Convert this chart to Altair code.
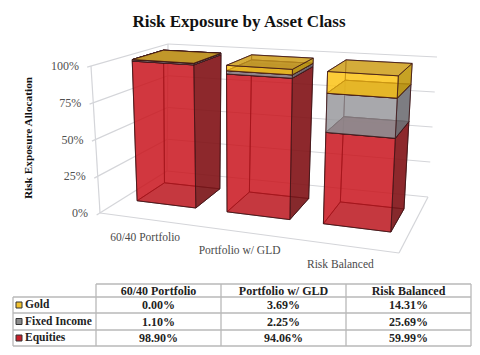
import altair as alt
import pandas as pd

# ---- data ----
categories = ["60/40 Portfolio", "Portfolio w/ GLD", "Risk Balanced"]
equities = [98.90, 94.06, 59.99]
fixed_income = [1.10, 2.25, 25.69]
gold = [0.00, 3.69, 14.31]
series_names = ["Equities", "Fixed Income", "Gold"]
ticks = [0, 25, 50, 75, 100]
title_text = "Risk Exposure by Asset Class"
axis_title = "Risk Exposure Allocation"

# ---- layout: 3-D frame corners on the page, (across, depth, height) ----
FRAME = {
    (0, 0, 0): (100, 213), (1, 0, 0): (399, 253), (0, 1, 0): (167, 171), (1, 1, 0): (428, 197),
    (0, 0, 1): (91, 66), (1, 0, 1): (407, 87), (0, 1, 1): (168, 44), (1, 1, 1): (437, 57),
}
WARP = 1.11
BAR_W = 0.22
D0, D1 = 0.335, 0.755
PAL = {
    "Equities": dict(front="#c9141c", side="#7d1519", top="#6a1a1e", back="#c9141c"),
    "Fixed Income": dict(front="#98989d", side="#6e6e73", top="#7c7c81", back="#98989d"),
    "Gold": dict(front="#fcc414", side="#bd960f", top="#cb9c20", back="#f4bc18"),
}
OP = dict(back=.45, left=.45, bottom=.45, right=.85, front=.72, top=.78)


def warp(t):
    return t / (t + WARP * (1 - t))


def project(u, d, v):
    out = []
    for k in (0, 1):
        s = 0.0
        for (a, b, c), p in FRAME.items():
            s += p[k] * (u if a else 1 - u) * (d if b else 1 - d) * (v if c else 1 - v)
        out.append(s)
    return out


polys, gid = [], 0


def add_face(corners, fill, op):
    global gid
    for n, (u, d, v) in enumerate(corners):
        x, y = project(u, d, v)
        polys.append(dict(id=gid, n=n, x=x, y=y, fill=fill, op=op))
    gid += 1


stacks = [equities, fixed_income, gold]
for i in range(len(categories)):
    c = (i + .5) / len(categories)
    u0, u1 = warp(c - BAR_W / 2), warp(c + BAR_W / 2)
    base = 0.0
    for name, s in zip(series_names, stacks):
        v0, v1 = base / 100, (base + s[i]) / 100
        base += s[i]
        p = PAL[name]
        add_face([(u0, D1, v0), (u1, D1, v0), (u1, D1, v1), (u0, D1, v1)], p["back"], OP["back"])
        add_face([(u0, D0, v0), (u0, D1, v0), (u0, D1, v1), (u0, D0, v1)], p["back"], OP["left"])
        add_face([(u0, D0, v0), (u1, D0, v0), (u1, D1, v0), (u0, D1, v0)], p["top"], OP["bottom"])
        add_face([(u1, D0, v0), (u1, D1, v0), (u1, D1, v1), (u1, D0, v1)], p["side"], OP["right"])
        add_face([(u0, D0, v0), (u1, D0, v0), (u1, D0, v1), (u0, D0, v1)], p["front"], OP["front"])
        add_face([(u0, D0, v1), (u1, D0, v1), (u1, D1, v1), (u0, D1, v1)], p["top"], OP["top"])

# frame lines
lines, lid = [], 0


def add_line(a, b):
    global lid
    for n, q in enumerate((a, b)):
        x, y = project(*q)
        lines.append(dict(id=lid, n=n, x=x, y=y))
    lid += 1


for t in ticks:
    v = t / 100
    add_line((0, -.05, v), (0, 1, v))
    add_line((0, 1, v), (1, 1, v))
add_line((0, 0, 0), (1, 0, 0))
add_line((1, 0, 0), (1, 1, 0))
add_line((0, 0, 0), (0, 0, 1))
add_line((0, 1, 0), (0, 1, 1))

X = alt.X("x:Q", scale=alt.Scale(domain=[8, 472], nice=False, zero=False), axis=None)
Y = alt.Y("y:Q", scale=alt.Scale(domain=[347, 8], nice=False, zero=False), axis=None)
SERIF = "Liberation Serif"

frame_layer = alt.Chart(pd.DataFrame(lines)).mark_line(color="#d4d5d9", strokeWidth=1.2).encode(
    x=X, y=Y, detail="id:O", order="n:Q")

bars_layer = alt.Chart(pd.DataFrame(polys)).mark_line(
    interpolate="linear-closed", stroke="#3d1416", strokeWidth=0.9, strokeOpacity=0.85
).encode(
    x=X, y=Y, detail="id:O", order="n:Q",
    fill=alt.Fill("fill:N", scale=None),
    fillOpacity=alt.FillOpacity("op:Q", scale=None),
)

tick_rows = []
for t in ticks:
    x, y = project(0, 0, t / 100)
    tick_rows.append(dict(x=x, y=y, label=f"{t}%"))
tick_layer = alt.Chart(pd.DataFrame(tick_rows)).mark_text(
    align="right", baseline="middle", font=SERIF, fontSize=12, fill="#505050", dx=-12
).encode(x=X, y=Y, text="label:N")

cat_rows = []
for i, cat in enumerate(categories):
    x, y = project(warp(.238 + .31 * i), -.35, 0)
    cat_rows.append(dict(x=x, y=y - (i == 2), label=cat))
cat_layer = alt.Chart(pd.DataFrame(cat_rows)).mark_text(
    align="center", baseline="middle", font=SERIF, fontSize=11.5, fill="#4a4a4a"
).encode(x=X, y=Y, text="label:N")

title_layer = alt.Chart(pd.DataFrame([dict(x=239, y=22, label=title_text)])).mark_text(
    align="center", baseline="middle", font=SERIF, fontSize=17, fontWeight="bold", fill="#111111"
).encode(x=X, y=Y, text="label:N")

axis_layer = alt.Chart(pd.DataFrame([dict(x=29, y=138, label=axis_title)])).mark_text(
    align="center", baseline="middle", angle=270, font=SERIF, fontSize=11.3, fontWeight="bold", fill="#111111"
).encode(x=X, y=Y, text="label:N")

# ---- table ----
COLS = [13, 96, 221, 346, 471]
ROWS = [284, 297, 313, 330, 346]
rules = []
k = 0
for j, yy in enumerate(ROWS):
    rules.append(dict(id=k, x=COLS[0] if j else COLS[1], y=yy, x2=COLS[-1], y2=yy))
    k += 1
for j, xx in enumerate(COLS):
    rules.append(dict(id=k, x=xx, y=ROWS[1] if j == 0 else ROWS[0], x2=xx, y2=ROWS[-1]))
    k += 1
rule_layer = alt.Chart(pd.DataFrame(rules)).mark_rule(color="#b9b9b9", strokeWidth=1.3).encode(
    x=X, y=Y, x2="x2:Q", y2="y2:Q")

row_names = ["Gold", "Fixed Income", "Equities"]
row_values = [gold, fixed_income, equities]
swatch_fill = ["#f2c230", "#8c8c8c", "#c8202a"]
cell_rows, name_rows, swatch_rows = [], [], []
for c, cat in enumerate(categories):
    cell_rows.append(dict(x=(COLS[c + 1] + COLS[c + 2]) / 2, y=(ROWS[0] + ROWS[1]) / 2, label=cat))
for r, (nm, vals) in enumerate(zip(row_names, row_values)):
    yc = (ROWS[r + 1] + ROWS[r + 2]) / 2
    name_rows.append(dict(x=25, y=yc, label=nm))
    swatch_rows.append(dict(x=19, y=yc, fill=swatch_fill[r]))
    for c, val in enumerate(vals):
        cell_rows.append(dict(x=(COLS[c + 1] + COLS[c + 2]) / 2, y=yc, label=f"{val:.2f}%"))

cells_layer = alt.Chart(pd.DataFrame(cell_rows)).mark_text(
    align="center", baseline="middle", font=SERIF, fontSize=12, fontWeight="bold", fill="#222222"
).encode(x=X, y=Y, text="label:N")
names_layer = alt.Chart(pd.DataFrame(name_rows)).mark_text(
    align="left", baseline="middle", font=SERIF, fontSize=11.5, fontWeight="bold", fill="#222222"
).encode(x=X, y=Y, text="label:N")
swatch_layer = alt.Chart(pd.DataFrame(swatch_rows)).mark_point(
    shape="square", size=36, filled=True, stroke="#333333", strokeWidth=1, opacity=1
).encode(x=X, y=Y, fill=alt.Fill("fill:N", scale=None))

chart = alt.layer(
    frame_layer, bars_layer, tick_layer, cat_layer, title_layer, axis_layer,
    rule_layer, cells_layer, names_layer, swatch_layer,
).properties(
    width=464, height=339, padding=0, autosize=alt.AutoSizeParams(type="none"),
    background="white",
).configure_view(stroke=None)

chart.save("out.html", embed_options={"renderer": "svg", "actions": False})
